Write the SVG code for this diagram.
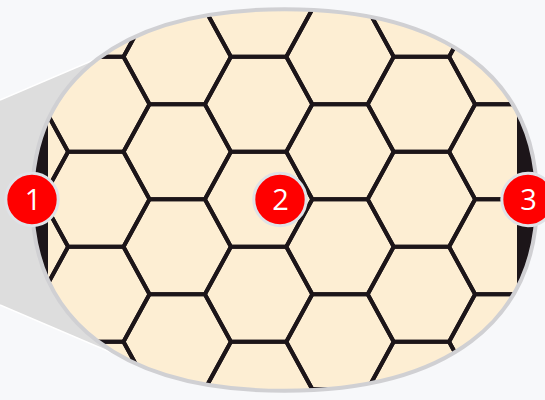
<svg xmlns="http://www.w3.org/2000/svg" xmlns:xlink="http://www.w3.org/1999/xlink" width="545" height="400" viewBox="0 0 545 400">
<defs>
<style>
.hex{fill:none;stroke:#1c1519;stroke-width:4;stroke-linejoin:miter}
.bar{fill:#1c1519}
.badge circle{fill:#ff0000;stroke:#dfe2e7;stroke-width:3}
.badge text{fill:#ffffff;font-family:"Open Sans","Noto Sans","Liberation Sans",sans-serif;font-size:29px;text-anchor:middle}
</style>
<clipPath id="lensClip">
<path d="M 537 200 C 537 322.1, 446.1 390.8, 284.5 390.8 C 122.9 390.8, 32 322.1, 32 200 C 32 77.9, 122.9 9.2, 284.5 9.2 C 446.1 9.2, 537 77.9, 537 200 Z"/>
</clipPath>
<polygon id="hx" points="-27.7,-47.5 27.7,-47.5 53.7,0 27.7,47.5 -27.7,47.5 -53.7,0"/>
</defs>
<rect x="0" y="0" width="545" height="400" fill="#f7f8fa"/>
<g id="cone">
<polygon points="0,100 150,36 220,200 150,369 0,305" fill="#dddddd" stroke="none"/>
<line x1="0" y1="100" x2="150" y2="36" stroke="#ffffff" stroke-width="1.5"/>
<line x1="0" y1="305" x2="150" y2="369" stroke="#ffffff" stroke-width="1.5"/>
</g>
<g id="lens">
<path d="M 537 200 C 537 322.1, 446.1 390.8, 284.5 390.8 C 122.9 390.8, 32 322.1, 32 200 C 32 77.9, 122.9 9.2, 284.5 9.2 C 446.1 9.2, 537 77.9, 537 200 Z" fill="#fdeed3"/>
<g clip-path="url(#lensClip)">
<rect class="bar" x="0" y="0" width="48" height="400"/>
<rect class="bar" x="517" y="0" width="40" height="400"/>
<g id="hexgrid" class="hex">
<use href="#hx" x="14.4" y="56.8"/><use href="#hx" x="14.4" y="151.8"/><use href="#hx" x="14.4" y="246.8"/><use href="#hx" x="14.4" y="341.8"/>
<use href="#hx" x="95.8" y="9.3"/><use href="#hx" x="95.8" y="104.3"/><use href="#hx" x="95.8" y="199.3"/><use href="#hx" x="95.8" y="294.3"/><use href="#hx" x="95.8" y="389.3"/>
<use href="#hx" x="177.2" y="-43.2"/><use href="#hx" x="177.2" y="56.8"/><use href="#hx" x="177.2" y="151.8"/><use href="#hx" x="177.2" y="246.8"/><use href="#hx" x="177.2" y="341.8"/><use href="#hx" x="177.2" y="436.8"/>
<use href="#hx" x="258.6" y="9.3"/><use href="#hx" x="258.6" y="104.3"/><use href="#hx" x="258.6" y="199.3"/><use href="#hx" x="258.6" y="294.3"/><use href="#hx" x="258.6" y="389.3"/>
<use href="#hx" x="340" y="-43.2"/><use href="#hx" x="340" y="56.8"/><use href="#hx" x="340" y="151.8"/><use href="#hx" x="340" y="246.8"/><use href="#hx" x="340" y="341.8"/><use href="#hx" x="340" y="436.8"/>
<use href="#hx" x="421.4" y="9.3"/><use href="#hx" x="421.4" y="104.3"/><use href="#hx" x="421.4" y="199.3"/><use href="#hx" x="421.4" y="294.3"/><use href="#hx" x="421.4" y="389.3"/>
<use href="#hx" x="502.8" y="-43.2"/><use href="#hx" x="502.8" y="56.8"/><use href="#hx" x="502.8" y="151.8"/><use href="#hx" x="502.8" y="246.8"/><use href="#hx" x="502.8" y="341.8"/><use href="#hx" x="502.8" y="436.8"/>
<use href="#hx" x="584.2" y="104.3"/><use href="#hx" x="584.2" y="199.3"/><use href="#hx" x="584.2" y="294.3"/>
</g>
</g>
<path d="M 537 200 C 537 322.1, 446.1 390.8, 284.5 390.8 C 122.9 390.8, 32 322.1, 32 200 C 32 77.9, 122.9 9.2, 284.5 9.2 C 446.1 9.2, 537 77.9, 537 200 Z" fill="none" stroke="#d0d0d3" stroke-width="4"/>
</g>
<g id="badge-1" class="badge">
<circle cx="32" cy="199.5" r="26.2"/>
<text x="33" y="209.8">1</text>
</g>
<g id="badge-2" class="badge">
<circle cx="280" cy="199.5" r="26.2"/>
<text x="280.5" y="209.8">2</text>
</g>
<g id="badge-3" class="badge">
<circle cx="528" cy="199.5" r="26.2"/>
<text x="528.5" y="209.8">3</text>
</g>
</svg>
